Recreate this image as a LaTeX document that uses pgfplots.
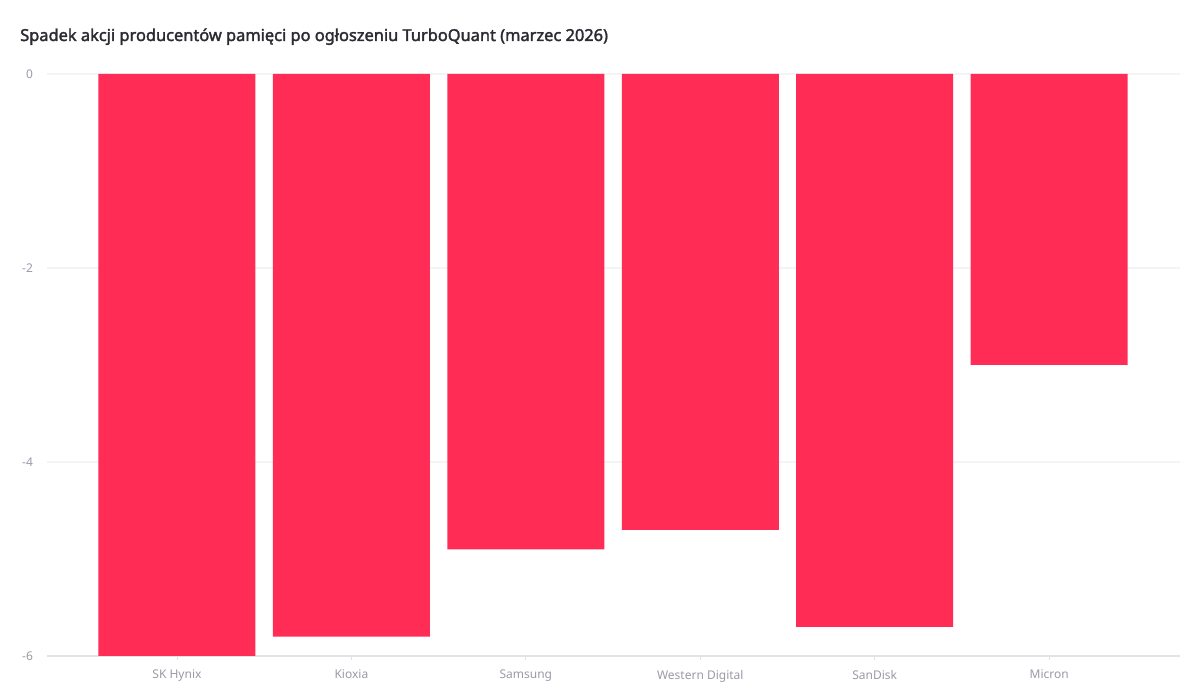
\documentclass[border=0pt]{standalone}
\usepackage{pgfplots}
\pgfplotsset{compat=1.18}
\usepackage{fontspec}
\setmainfont{Noto Sans}
\newfontfamily\titlefont[FakeBold=2]{Noto Sans}
\definecolor{barred}{HTML}{FF2D55}
\definecolor{ticklab}{HTML}{9A9AA6}
\definecolor{gridc}{HTML}{F4F4F6}
\definecolor{axisc}{HTML}{E2E2E8}
\definecolor{titlec}{HTML}{2B2B33}
\begin{document}
\begin{tikzpicture}
\path[use as bounding box] (0,0) rectangle (900pt,525pt);
\node[anchor=west, font=\titlefont\fontsize{12.3}{14}\selectfont, text=titlec, inner sep=0pt] at (15pt,497.5pt) {Spadek akcji producentów pamięci po ogłoszeniu TurboQuant (marzec 2026)};
\begin{axis}[
  at={(35.25pt,33pt)}, anchor=south west,
  scale only axis, width=849.75pt, height=436.5pt,
  xmin=-0.745, xmax=5.75, ymin=-6, ymax=0,
  axis line style={draw=none},
  ybar, bar width=0.9, bar shift=0pt,
  xtick={0,1,2,3,4,5},
  xticklabels={SK Hynix, Kioxia, Samsung, Western Digital, SanDisk, Micron},
  xtick pos=bottom,
  ytick={-4,-2,0},
  extra y ticks={-6},
  extra y tick style={grid style={axisc, line width=1.2pt}},
  ymajorgrids,
  grid style={gridc, line width=0.8pt},
  tick align=outside,
  major tick length=3pt,
  xtick style={draw=axisc, line width=0.6pt},
  ytick style={draw=none},
  /pgf/number format/assume math mode=true,
  tick label style={font=\fontsize{9}{11}\selectfont, text=ticklab},
  yticklabel style={anchor=east, xshift=-4pt},
  xticklabel style={yshift=-4pt},
  axis on top=false,
]
\addplot[fill=barred, draw=none] coordinates {(0,-6.0) (1,-5.8) (2,-4.9) (3,-4.7) (4,-5.7) (5,-3.0)};
\end{axis}
\end{tikzpicture}
\end{document}
